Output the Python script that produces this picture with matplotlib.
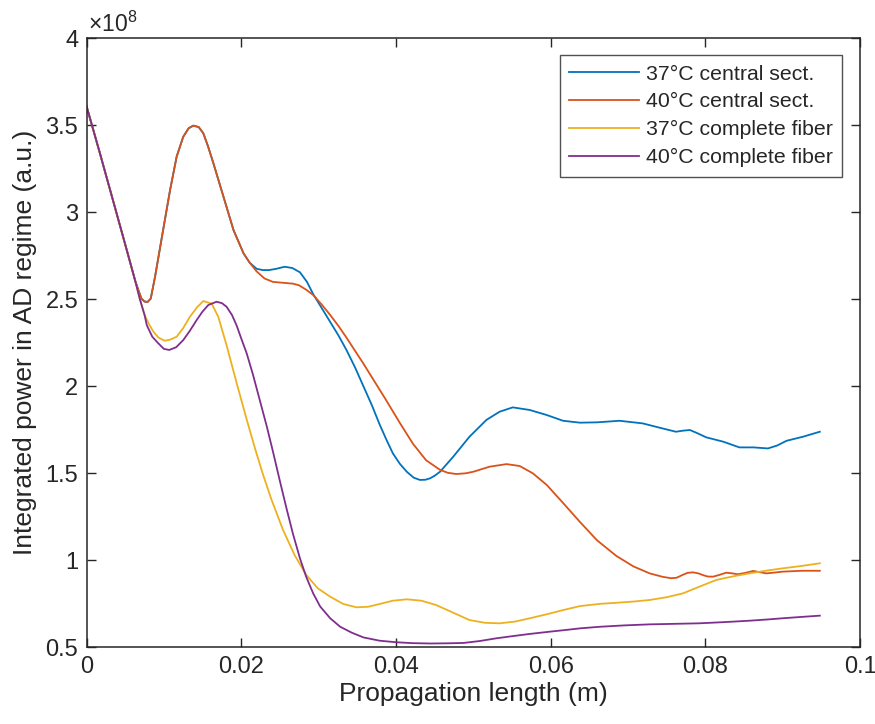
import matplotlib
matplotlib.use("Agg")
import matplotlib.pyplot as plt

plt.rcParams["font.family"] = ["Liberation Sans", "DejaVu Sans"]
plt.rcParams["mathtext.fontset"] = "custom"
plt.rcParams["mathtext.rm"] = "Liberation Sans"
plt.rcParams["mathtext.it"] = "Liberation Sans"
plt.rcParams["mathtext.bf"] = "Liberation Sans"

# Propagation length (m) and integrated power (units of 1e8, a.u.)
x_37_central = [0, 0.0017, 0.0035, 0.0052, 0.0063, 0.0067, 0.0071, 0.0075, 0.0079, 0.0083,
                0.00885, 0.0099, 0.0108, 0.01165, 0.0125, 0.0132, 0.0138, 0.0145, 0.0151, 0.0157,
                0.0164, 0.0177, 0.0190, 0.0203, 0.0211, 0.0220, 0.0228, 0.0236, 0.0245, 0.0256,
                0.0266, 0.0276, 0.0285, 0.0293, 0.0304, 0.0315, 0.0326, 0.0336, 0.0347, 0.0358,
                0.0369, 0.0379, 0.0388, 0.0396, 0.0405, 0.0414, 0.0423, 0.0431, 0.0438, 0.0444,
                0.0450, 0.0457, 0.0474, 0.0495, 0.0517, 0.0534, 0.0551, 0.0573, 0.0595, 0.0616,
                0.0638, 0.0660, 0.0689, 0.0719, 0.0741, 0.0762, 0.0771, 0.0780, 0.0790, 0.0801,
                0.0823, 0.0844, 0.0862, 0.0881, 0.0893, 0.0905, 0.0926, 0.0948]
y_37_central = [3.61, 3.344, 3.056, 2.783, 2.605, 2.553, 2.504, 2.487, 2.485, 2.504,
                2.628, 2.898, 3.128, 3.320, 3.434, 3.483, 3.498, 3.490, 3.454, 3.380,
                3.282, 3.090, 2.898, 2.764, 2.710, 2.675, 2.668, 2.668, 2.675, 2.687,
                2.680, 2.655, 2.600, 2.530, 2.450, 2.370, 2.290, 2.209, 2.110, 2.000,
                1.890, 1.780, 1.690, 1.615, 1.555, 1.509, 1.475, 1.462, 1.463, 1.471,
                1.486, 1.509, 1.595, 1.710, 1.807, 1.854, 1.879, 1.864, 1.835, 1.802,
                1.791, 1.793, 1.802, 1.787, 1.762, 1.739, 1.745, 1.749, 1.730, 1.707,
                1.682, 1.649, 1.649, 1.643, 1.660, 1.687, 1.710, 1.739]

x_40_central = [0, 0.0017, 0.0035, 0.0052, 0.0063, 0.0067, 0.0071, 0.0075, 0.0079, 0.0083,
                0.00885, 0.0099, 0.0108, 0.01165, 0.0125, 0.0132, 0.0138, 0.0145, 0.0151, 0.0157,
                0.0164, 0.0177, 0.0190, 0.0203, 0.0211, 0.0220, 0.0230, 0.0241, 0.0254, 0.0267,
                0.0275, 0.0284, 0.0293, 0.0304, 0.0315, 0.0326, 0.0336, 0.0347, 0.0358, 0.0372,
                0.0386, 0.0405, 0.0422, 0.0439, 0.0457, 0.0467, 0.0478, 0.0490, 0.0500, 0.0521,
                0.0543, 0.0560, 0.0577, 0.0595, 0.0616, 0.0638, 0.0660, 0.0685, 0.0707, 0.0728,
                0.0745, 0.0756, 0.0763, 0.0770, 0.0777, 0.0784, 0.0791, 0.0797, 0.0803, 0.0810,
                0.0818, 0.0827, 0.0835, 0.0842, 0.0852, 0.0862, 0.0870, 0.0879, 0.0890, 0.0900,
                0.0925, 0.0948]
y_40_central = [3.61, 3.344, 3.056, 2.783, 2.605, 2.553, 2.504, 2.487, 2.485, 2.504,
                2.628, 2.898, 3.128, 3.320, 3.434, 3.483, 3.498, 3.490, 3.454, 3.380,
                3.282, 3.090, 2.898, 2.764, 2.710, 2.660, 2.620, 2.600, 2.595, 2.590,
                2.580, 2.555, 2.525, 2.470, 2.410, 2.345, 2.280, 2.205, 2.130, 2.030,
                1.930, 1.790, 1.670, 1.575, 1.520, 1.503, 1.496, 1.500, 1.509, 1.538,
                1.553, 1.542, 1.500, 1.433, 1.330, 1.220, 1.115, 1.025, 0.965, 0.925,
                0.905, 0.897, 0.900, 0.915, 0.928, 0.931, 0.925, 0.915, 0.907, 0.906,
                0.916, 0.929, 0.925, 0.920, 0.928, 0.939, 0.932, 0.925, 0.930, 0.935,
                0.940, 0.940]

x_37_fiber = [0, 0.0017, 0.0035, 0.0052, 0.0063, 0.0069, 0.0075, 0.0081, 0.00863, 0.0093,
              0.0101, 0.0108, 0.01165, 0.0125, 0.01337, 0.0143, 0.0151, 0.01618, 0.01703, 0.01811,
              0.0194, 0.0207, 0.0218, 0.0228, 0.0239, 0.0254, 0.0269, 0.0284, 0.0299, 0.0315,
              0.0332, 0.0349, 0.0364, 0.0379, 0.0396, 0.0414, 0.0433, 0.0452, 0.0474, 0.0495,
              0.0515, 0.0534, 0.0554, 0.0573, 0.0595, 0.0616, 0.0638, 0.0664, 0.0685, 0.0707,
              0.0728, 0.0750, 0.0771, 0.0792, 0.0814, 0.0836, 0.0857, 0.0878, 0.0900, 0.0925,
              0.0948]
y_37_fiber = [3.61, 3.344, 3.056, 2.783, 2.605, 2.500, 2.410, 2.355, 2.315, 2.280,
              2.262, 2.268, 2.285, 2.335, 2.400, 2.455, 2.490, 2.475, 2.400, 2.235,
              2.020, 1.810, 1.640, 1.495, 1.350, 1.175, 1.030, 0.916, 0.839, 0.791,
              0.749, 0.730, 0.733, 0.749, 0.768, 0.776, 0.768, 0.743, 0.699, 0.657,
              0.641, 0.638, 0.648, 0.667, 0.690, 0.714, 0.737, 0.750, 0.756, 0.763,
              0.772, 0.788, 0.810, 0.848, 0.887, 0.908, 0.925, 0.940, 0.954, 0.968,
              0.983]

x_40_fiber = [0, 0.0017, 0.0035, 0.0052, 0.0063, 0.0069, 0.0075, 0.0078, 0.0085, 0.00928,
              0.0100, 0.0107, 0.0116, 0.01251, 0.01337, 0.01424, 0.0150, 0.01574, 0.0168, 0.0175,
              0.01811, 0.0188, 0.0194, 0.0200, 0.0207, 0.0215, 0.0224, 0.0233, 0.0241, 0.0250,
              0.0259, 0.0267, 0.0276, 0.0284, 0.0293, 0.0302, 0.0315, 0.0328, 0.0343, 0.0358,
              0.0379, 0.0401, 0.0422, 0.0444, 0.0465, 0.0487, 0.0508, 0.0530, 0.0552, 0.0573,
              0.0599, 0.0620, 0.0638, 0.0663, 0.0695, 0.0728, 0.0760, 0.0792, 0.0825, 0.0857,
              0.0880, 0.0900, 0.0925, 0.0948]
y_40_fiber = [3.61, 3.344, 3.056, 2.783, 2.605, 2.500, 2.410, 2.350, 2.285, 2.247,
              2.215, 2.209, 2.225, 2.266, 2.320, 2.381, 2.430, 2.467, 2.486, 2.478,
              2.457, 2.410, 2.350, 2.275, 2.190, 2.070, 1.920, 1.770, 1.625, 1.455,
              1.290, 1.150, 1.010, 0.905, 0.810, 0.735, 0.667, 0.618, 0.584, 0.557,
              0.538, 0.529, 0.524, 0.522, 0.523, 0.525, 0.536, 0.552, 0.565, 0.577,
              0.590, 0.600, 0.609, 0.618, 0.626, 0.632, 0.635, 0.638, 0.645, 0.653,
              0.660, 0.667, 0.675, 0.682]

series_labels = ["37°C central sect.", "40°C central sect.",
                 "37°C complete fiber", "40°C complete fiber"]
series_colors = ["#0072BD", "#D95319", "#EDB120", "#7E2F8E"]
series = [(x_37_central, y_37_central), (x_40_central, y_40_central),
          (x_37_fiber, y_37_fiber), (x_40_fiber, y_40_fiber)]

x_ticks = [0, 0.02, 0.04, 0.06, 0.08, 0.1]
x_tick_labels = ["0", "0.02", "0.04", "0.06", "0.08", "0.1"]
y_ticks = [0.5, 1, 1.5, 2, 2.5, 3, 3.5, 4]
y_tick_labels = ["0.5", "1", "1.5", "2", "2.5", "3", "3.5", "4"]
exponent_label = "×10$^{8}$"

ink = "#262626"
fig = plt.figure(figsize=(8.75, 7.24), dpi=100)
ax = fig.add_axes([0.0989, 0.1059, 0.884, 0.8412])

for (xs, ys), lab, col in zip(series, series_labels, series_colors):
    ax.plot(xs, ys, color=col, lw=1.3, label=lab, solid_joinstyle="round")

ax.set_xlim(0, 0.1)
ax.set_ylim(0.5, 4)
ax.set_xticks(x_ticks)
ax.set_xticklabels(x_tick_labels)
ax.set_yticks(y_ticks)
ax.set_yticklabels(y_tick_labels)

ax.text(0.002, 1.0099, exponent_label, transform=ax.transAxes, ha="left",
        va="baseline", fontsize=16.5, color=ink)

for s in ax.spines.values():
    s.set_color(ink)
    s.set_linewidth(1.1)
ax.tick_params(direction="in", length=6.5, width=1.0, colors=ink, labelsize=17,
               top=True, right=True, pad=6)

ax.set_xlabel("Propagation length (m)", fontsize=19, color=ink, labelpad=3)
ax.set_ylabel("Integrated power in AD regime (a.u.)", fontsize=19, color=ink, labelpad=6)

leg = ax.legend(loc="upper right", bbox_to_anchor=(0.9767, 0.9726), borderaxespad=0,
                fontsize=15.3, frameon=True, fancybox=False, handlelength=3.3,
                handletextpad=0.3, labelspacing=0.42, borderpad=0.45)
leg.get_frame().set_edgecolor(ink)
leg.get_frame().set_linewidth(1.0)
for t in leg.get_texts():
    t.set_color(ink)

fig.savefig("out.png", dpi=100)
